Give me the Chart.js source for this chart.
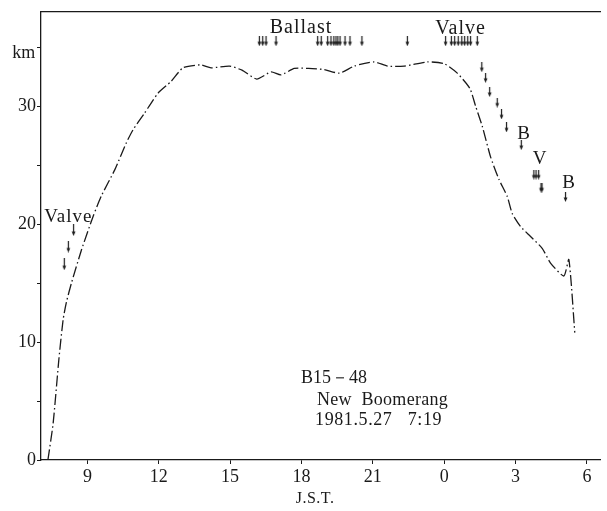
<!DOCTYPE html>
<html>
<head>
<meta charset="utf-8">
<script src="https://cdn.jsdelivr.net/npm/chart.js@4.4.0/dist/chart.umd.min.js"></script>
<style>
  html, body { margin: 0; padding: 0; background: #fff; }
</style>
</head>
<body>
<canvas id="chart" width="607" height="511"></canvas>
<script>
// flight B15-48, hours J.S.T. counted on past midnight (24 = 0h, 27 = 3h ...)
var flightHours = [7.34, 7.56, 7.80, 7.98, 8.12, 8.33, 8.75, 9.24, 9.59, 10.15, 10.64, 10.92,
  11.40, 11.97, 12.52, 13.02, 13.75, 14.20, 14.97, 15.50, 16.12, 16.72, 17.14, 17.70,
  18.30, 18.96, 19.60, 20.22, 21.06, 21.62, 22.32, 23.30, 24.00, 24.55, 25.08, 25.32,
  25.60, 25.95, 26.30, 26.65, 26.86, 27.21, 27.63, 28.12, 28.47, 29.03, 29.24, 29.49];
var altitudeKm = [0, 3.1, 8.5, 11.9, 13.4, 15.0, 17.8, 20.65, 22.4, 24.6, 26.9, 28.0,
  29.4, 31.1, 32.1, 33.25, 33.5, 33.25, 33.4, 33.05, 32.3, 32.9, 32.65, 33.2,
  33.2, 33.1, 32.8, 33.4, 33.75, 33.4, 33.4, 33.75, 33.6, 32.8, 31.5, 30.0,
  28.3, 25.7, 23.8, 22.35, 20.9, 19.8, 18.95, 17.95, 16.7, 15.6, 17.0, 10.8];

// ballast / valve operations (arrows)
var ballastTopHours = [16.23, 16.37, 16.51, 16.93, 18.68, 18.83, 19.10, 19.24, 19.36, 19.45,
  19.53, 19.62, 19.83, 20.04, 20.54, 22.45];
var valveTopHours = [24.06, 24.30, 24.44, 24.59, 24.74, 24.86, 24.99, 25.11, 25.39];
var opsLevelKm = 35.5;
var ballastDescHours = [25.58, 25.74, 25.91, 26.23, 26.41, 26.62, 27.24, 28.07, 28.11, 29.10];
var ballastDescKm = [33.3, 32.4, 31.2, 30.3, 29.3, 28.2, 26.7, 23.1, 23.1, 22.3];
var valveDescHours = [27.77, 27.86, 27.97];
var valveDescKm = [24.2, 24.2, 24.2];
var valveAscHours = [8.42, 8.20, 8.03];
var valveAscKm = [19.5, 18.1, 16.6];

var xTickHours = [9, 12, 15, 18, 21, 24, 27, 30];
var yTickKm = [0, 5, 10, 15, 20, 25, 30, 35];

var notes = [
  { text: 'km', x: 6.33, y: 34.5, size: 18, align: 'center' },
  { text: 'Ballast', x: 17.98, y: 36.67, size: 20, align: 'center', spacing: 1 },
  { text: 'Valve', x: 24.69, y: 36.55, size: 20, align: 'center', spacing: 1 },
  { text: 'Valve', x: 8.20, y: 20.63, size: 19, align: 'center', spacing: 1 },
  { text: 'B', x: 27.34, y: 27.6, size: 19, align: 'center' },
  { text: 'V', x: 28.01, y: 25.5, size: 19, align: 'center' },
  { text: 'B', x: 29.23, y: 23.5, size: 19, align: 'center' },
  { text: 'B15\uFF0D48', x: 17.98, y: 6.96, size: 18, align: 'left' },
  { text: 'New  Boomerang', x: 18.65, y: 5.09, size: 18, align: 'left', spacing: 0.3 },
  { text: '1981.5.27   7:19', x: 18.57, y: 3.40, size: 18, align: 'left', spacing: 0.6 },
  { text: 'J.S.T.', x: 18.57, y: -3.25, size: 16, align: 'center', spacing: 0.5 }
];

var INK = '#1a1a1a';
var SERIF = '"Liberation Serif", "DejaVu Serif", serif';

function makeArrow(len, w) {
  var c = document.createElement('canvas');
  c.width = 7;
  c.height = len;
  var g = c.getContext('2d');
  g.strokeStyle = INK;
  g.fillStyle = INK;
  g.lineWidth = w;
  g.beginPath();
  g.moveTo(3.5, 0);
  g.lineTo(3.5, len - 3);
  g.stroke();
  g.beginPath();
  g.moveTo(1.6, len - 4.5);
  g.lineTo(5.4, len - 4.5);
  g.lineTo(3.5, len);
  g.closePath();
  g.fill();
  return c;
}

function pts(xs, ys) {
  return xs.map(function(x, i) {
    return { x: x, y: Array.isArray(ys) ? ys[i] : ys };
  });
}

function arrowSet(data, len) {
  return {
    type: 'scatter',
    data: data,
    pointStyle: makeArrow(len, 1.2),
    pointRadius: 5,
    showLine: false
  };
}

var notesPlugin = {
  id: 'notes',
  afterDatasetsDraw: function(chart) {
    var ctx = chart.ctx, sx = chart.scales.x, sy = chart.scales.y;
    ctx.save();
    ctx.fillStyle = INK;
    ctx.textBaseline = 'middle';
    notes.forEach(function(n) {
      ctx.font = n.size + 'px ' + SERIF;
      ctx.textAlign = n.align;
      ctx.letterSpacing = (n.spacing || 0) + 'px';
      ctx.fillText(n.text, sx.getPixelForValue(n.x), sy.getPixelForValue(n.y));
    });
    ctx.restore();
  }
};

new Chart(document.getElementById('chart').getContext('2d'), {
  type: 'scatter',
  data: {
    datasets: [
      {
        type: 'line',
        data: pts(flightHours, altitudeKm),
        borderColor: INK,
        borderWidth: 1.3,
        borderDash: [11, 3, 1.5, 3],
        pointRadius: 0,
        tension: 0.2,
        fill: false
      },
      arrowSet(pts(ballastTopHours, opsLevelKm), 10),
      arrowSet(pts(valveTopHours, opsLevelKm), 10),
      arrowSet(pts(ballastDescHours, ballastDescKm), 10),
      arrowSet(pts(valveDescHours, valveDescKm), 10),
      arrowSet(pts(valveAscHours, valveAscKm), 12)
    ]
  },
  options: {
    responsive: false,
    animation: false,
    layout: { padding: { top: 11, right: 7, left: 0, bottom: 0 } },
    plugins: { legend: { display: false }, tooltip: { enabled: false } },
    scales: {
      x: {
        type: 'linear',
        min: 7.05,
        max: 30.55,
        afterBuildTicks: function(s) { s.ticks = xTickHours.map(function(v) { return { value: v }; }); },
        afterFit: function(s) { s.height = 51; },
        ticks: {
          color: INK,
          padding: 2,
          font: { family: SERIF, size: 18 },
          callback: function(v) { return String(v % 24); }
        },
        grid: { drawOnChartArea: false, tickLength: 4, color: INK },
        border: { color: INK, width: 1.3 }
      },
      xTop: {
        type: 'linear',
        position: 'top',
        min: 7.05,
        max: 30.55,
        afterFit: function(s) { s.height = 0; },
        ticks: { display: false },
        grid: { display: false },
        border: { color: INK, width: 1.3 }
      },
      y: {
        min: 0,
        max: 38,
        afterBuildTicks: function(s) { s.ticks = yTickKm.map(function(v) { return { value: v }; }); },
        afterFit: function(s) { s.width = 41; },
        ticks: {
          color: INK,
          padding: 1,
          font: { family: SERIF, size: 18 },
          callback: function(v) { return v % 10 === 0 ? String(v) : ''; }
        },
        grid: { drawOnChartArea: false, tickLength: 4, color: INK },
        border: { color: INK, width: 1.3 }
      }
    }
  },
  plugins: [notesPlugin]
});
</script>
</body>
</html>
